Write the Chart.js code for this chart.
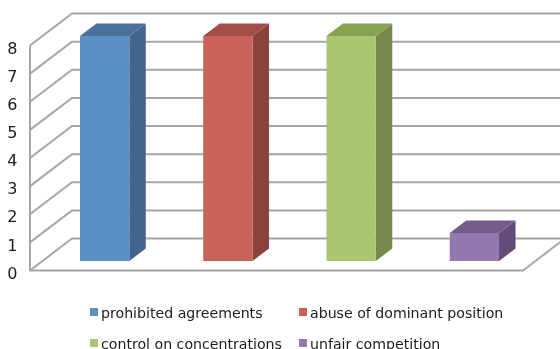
<!DOCTYPE html>
<html>
<head>
<meta charset="utf-8">
<title>Chart</title>
<script src="https://cdn.jsdelivr.net/npm/chart.js@4"></script>
<style>
    html, body { margin: 0; padding: 0; background: #fff; overflow: hidden; }
    #wrap { position: relative; width: 560px; height: 349px; overflow: hidden; }
    #legend span { position: absolute; font: 14.15px "DejaVu Sans", sans-serif; color: #1c1c1c; white-space: nowrap; line-height: 16px; }
    #legend i { position: absolute; width: 8px; height: 8px; }
</style>
</head>
<body>
<div id="wrap">
    <canvas id="myChart" width="560" height="349"></canvas>
    <div id="legend"></div>
</div>
<script>
const categories = ['prohibited agreements', 'abuse of dominant position', 'control on concentrations', 'unfair competition'];
const values = [8, 8, 8, 1];
const frontColors = ['#5b90c6', '#c9635a', '#acc56f', '#9379ae'];
const sideColors = ['#42648e', '#8a423b', '#77894a', '#634c79'];
const topColors = ['#4a709b', '#a04e47', '#88a052', '#735c8a'];
const tickValues = [0, 1, 2, 3, 4, 5, 6, 7, 8];

// depth of the bars and of the walls, in pixels
const barDepth = [16.5, 12.5];
const floorFront = [-13, 9.5];
const wallDepth = [42, 32];

const frame3d = {
    id: 'frame3d',
    beforeDatasetsDraw(chart) {
        const ctx = chart.ctx;
        const y = chart.scales.y;
        const left = chart.chartArea.left + floorFront[0];
        const right = 523;

        ctx.save();
        ctx.strokeStyle = '#a6a6a6';
        ctx.lineWidth = 2;
        tickValues.forEach(v => {
            const py = y.getPixelForValue(v) + floorFront[1];
            ctx.beginPath();
            ctx.moveTo(left, py);
            ctx.lineTo(left + wallDepth[0], py - wallDepth[1]);
            ctx.lineTo(560, py - wallDepth[1]);
            ctx.stroke();
        });

        // axis and floor
        const y0 = y.getPixelForValue(0) + floorFront[1];
        ctx.beginPath();
        ctx.moveTo(left, y.getPixelForValue(8) + floorFront[1]);
        ctx.lineTo(left, y0);
        ctx.lineTo(right, y0);
        ctx.lineTo(right + wallDepth[0], y0 - wallDepth[1]);
        ctx.stroke();

        // sides and tops of the bars
        chart.getDatasetMeta(0).data.forEach((bar, i) => {
            const x1 = bar.x - bar.width / 2;
            const x2 = bar.x + bar.width / 2;
            ctx.fillStyle = sideColors[i];
            ctx.beginPath();
            ctx.moveTo(x2, bar.y);
            ctx.lineTo(x2 + barDepth[0], bar.y - barDepth[1]);
            ctx.lineTo(x2 + barDepth[0], bar.base - barDepth[1]);
            ctx.lineTo(x2, bar.base);
            ctx.closePath();
            ctx.fill();
            ctx.fillStyle = topColors[i];
            ctx.beginPath();
            ctx.moveTo(x1, bar.y);
            ctx.lineTo(x1 + barDepth[0], bar.y - barDepth[1]);
            ctx.lineTo(x2 + barDepth[0], bar.y - barDepth[1]);
            ctx.lineTo(x2, bar.y);
            ctx.closePath();
            ctx.fill();
        });
        ctx.restore();
    }
};

const ctx = document.getElementById('myChart').getContext('2d');
new Chart(ctx, {
    type: 'bar',
    data: {
        labels: categories,
        datasets: [{
            data: values,
            backgroundColor: frontColors,
            borderWidth: 0,
            barPercentage: 0.4,
            categoryPercentage: 1,
            clip: false
        }]
    },
    options: {
        responsive: false,
        animation: false,
        layout: { padding: { top: 36, bottom: 88, right: 24, left: 0 } },
        plugins: { legend: { display: false }, tooltip: { enabled: false } },
        scales: {
            x: { display: false },
            y: {
                min: 0,
                max: 8,
                afterFit(scale) { scale.width = 43; },
                grid: { display: false, drawTicks: false },
                border: { display: false },
                ticks: {
                    stepSize: 1,
                    padding: 25.5,
                    labelOffset: 13.5,
                    color: '#1c1c1c',
                    font: { family: 'DejaVu Sans', size: 16 }
                }
            }
        }
    },
    plugins: [frame3d]
});

// legend in two aligned columns
const legend = document.getElementById('legend');
const legendCols = [90, 299];
const legendRows = [308, 339];
categories.forEach((name, i) => {
    const col = legendCols[i % 2];
    const row = legendRows[Math.floor(i / 2)];
    const box = document.createElement('i');
    box.style.cssText = `left:${col}px;top:${row}px;background:${frontColors[i]}`;
    const label = document.createElement('span');
    label.style.cssText = `left:${col + 11}px;top:${row - 3}px`;
    label.textContent = name;
    legend.append(box, label);
});
</script>
</body>
</html>
